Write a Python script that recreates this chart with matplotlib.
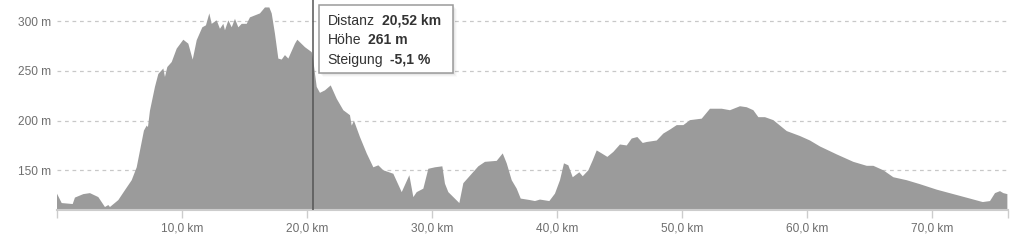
import matplotlib
matplotlib.use("Agg")
import matplotlib.pyplot as plt
from matplotlib.patches import Rectangle

plt.rcParams["font.family"] = ["Liberation Sans", "DejaVu Sans"]

# Elevation profile (distance in km, height in m)
distance_km = [
    0.00, 0.40, 1.28, 1.46, 2.13, 2.66, 3.33, 3.86, 4.13, 4.26, 4.93, 5.46,
    6.00, 6.40, 6.72, 6.98, 7.20, 7.30, 7.46, 7.86, 8.13, 8.53, 8.66, 8.85,
    9.20, 9.60, 10.13, 10.53, 10.88, 11.20, 11.65, 11.94, 12.21, 12.40, 12.80,
    13.06, 13.33, 13.46, 13.73, 14.00, 14.26, 14.53, 14.80, 15.20, 15.46,
    15.86, 16.26, 16.66, 17.01, 17.20, 17.46, 17.73, 18.00, 18.26, 18.53,
    19.06, 19.25, 19.86, 20.40, 20.52, 20.80, 21.06, 21.46, 21.92, 22.40,
    22.93, 23.46, 23.60, 23.78, 24.26, 24.80, 25.33, 25.73, 26.13, 26.93,
    27.60, 28.21, 28.53, 28.80, 29.33, 29.73, 30.26, 30.85, 31.06, 31.33,
    31.73, 32.21, 32.53, 33.20, 33.73, 34.26, 35.20, 35.68, 36.00, 36.40,
    36.80, 37.12, 37.86, 38.26, 38.66, 39.41, 39.86, 40.26, 40.58, 40.93,
    41.28, 41.81, 42.08, 42.53, 42.88, 43.20, 43.60, 44.05, 44.53, 45.06,
    45.60, 46.00, 46.45, 46.88, 47.20, 48.00, 48.53, 49.06, 49.60, 50.13,
    50.66, 51.60, 52.26, 53.20, 53.86, 54.66, 55.20, 55.73, 56.13, 56.66,
    57.33, 58.40, 59.46, 60.26, 61.06, 62.40, 63.73, 64.80, 65.33, 66.13,
    66.93, 68.00, 69.06, 70.40, 71.73, 73.06, 74.08, 74.66, 75.06, 75.46,
    75.73, 76.05,
]
height_m = [
    127, 117, 116, 122.5, 126, 127, 123, 113, 115, 113, 120, 130,
    140, 153, 173.5, 190, 195, 193.5, 210, 234, 247, 252.5, 244, 254,
    259, 272.5, 281.5, 277.5, 261.5, 281, 294, 296, 308, 297.5, 301,
    292.5, 297.5, 291, 301, 294, 302.5, 294, 297.5, 297.5, 304,
    306, 308, 314, 314, 308, 287.5, 262.5, 261.5, 266, 262.5,
    277.5, 281.5, 274, 269, 261, 234, 228, 230.5, 235.5, 222,
    210.5, 205.5, 195, 200, 183.5, 167, 153, 155, 150, 146.5,
    128, 145, 123, 128, 131.5, 151.5, 153, 154, 136.5, 128,
    123, 117, 137, 146.5, 154, 158.5, 159.5, 167, 157, 140,
    131.5, 121.5, 120, 119, 120.5, 119, 126.5, 140, 157, 155,
    143, 148, 144, 150, 160, 170, 167, 163.5, 168.5, 176,
    175, 182, 183.5, 177.5, 178.5, 180, 187, 191, 195.5, 195.5,
    200.5, 202, 212, 212, 210.5, 214.5, 213.5, 210.5, 203.5, 203.5,
    200.5, 189.5, 184.5, 180, 174, 166, 158.5, 154.5, 154.5, 150,
    143, 140, 136, 130.5, 126, 121.5, 118, 119, 127, 129,
    127, 126,
]

y_ticks = [150, 200, 250, 300]
x_ticks = [10, 20, 30, 40, 50, 60, 70]
x_end = 76.1

# hovered point shown in the tooltip
hover_km = 20.52
tooltip_rows = [("Distanz", "20,52 km"), ("Höhe", "261 m"), ("Steigung", "-5,1 %")]

fig = plt.figure(figsize=(10.24, 2.43), dpi=100)
ax = fig.add_axes([56.7 / 1024, 33 / 243, (1008 - 56.7) / 1024, 210 / 243])

ax.fill_between(distance_km, height_m, 0, color="#9b9b9b", lw=0, zorder=2)
ax.set_xlim(0, x_end)
ax.set_ylim(110, 321.5)

for v in y_ticks:
    ax.axhline(v, color="#c8c8c8", lw=0.9, ls=(0, (3, 3)), zorder=1)

for s in ax.spines.values():
    s.set_visible(False)
ax.axhline(110, color="#cccccc", lw=1.5, zorder=3, clip_on=False)

ax.set_yticks(y_ticks)
ax.set_yticklabels([f"{v} m" for v in y_ticks])
ax.tick_params(axis="y", length=0, pad=4, labelsize=8.6, labelcolor="#6e6e6e")

ax.set_xticks([0] + x_ticks + [x_end])
ax.set_xticklabels([""] + [f"{v},0 km" for v in x_ticks] + [""])
ax.tick_params(axis="x", length=6, width=1, color="#cccccc", pad=3,
               labelsize=8.6, labelcolor="#6e6e6e")

# crosshair at hovered point
ax.axvline(hover_km, color="#555555", lw=1.1, zorder=4)

# tooltip box with soft shadow
bx, by, bw, bh = 319 / 1024, (243 - 73.3) / 243, 134.3 / 1024, 68.3 / 243
for i, a in enumerate([0.05, 0.04, 0.03, 0.02]):
    fig.patches.append(Rectangle((bx + (i + 1) / 1024, by - (i + 1) / 243), bw, bh,
                                 transform=fig.transFigure, facecolor="black",
                                 alpha=a, lw=0, zorder=5))
fig.patches.append(Rectangle((bx, by), bw, bh, transform=fig.transFigure,
                             facecolor="white", edgecolor="#9a9a9a", lw=1.1, zorder=6))

renderer = fig.canvas.get_renderer()
line_y = [20.7, 39.6, 59.5]
for (label, value), ly in zip(tooltip_rows, line_y):
    t = fig.text(327.7 / 1024, 1 - ly / 243, label, fontsize=10.1, color="#333333",
                 va="center", ha="left", zorder=7)
    ext = t.get_window_extent(renderer=renderer)
    fig.text((ext.x1 + 7) / 1024, 1 - ly / 243, value, fontsize=10.1, color="#333333",
             fontweight="bold", va="center", ha="left", zorder=7)

fig.savefig("out.png", dpi=100)
